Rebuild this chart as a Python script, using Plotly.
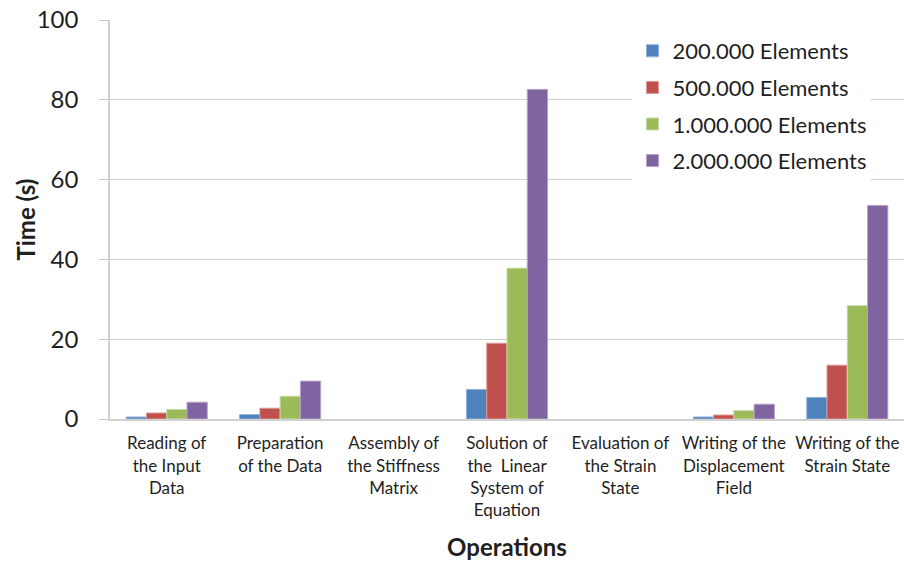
import plotly.graph_objects as go

# Operations of the FE analysis (multi-line category labels)
operations = [
    "Reading of<br>the Input<br>Data",
    "Preparation<br>of the Data",
    "Assembly of<br>the Stiffness<br>Matrix",
    "Solution of<br>the  Linear<br>System of<br>Equation",
    "Evaluation of<br>the Strain<br>State",
    "Writing of the<br>Displacement<br>Field",
    "Writing of the<br>Strain State",
]

series_names = [
    "200.000 Elements",
    "500.000 Elements",
    "1.000.000 Elements",
    "2.000.000 Elements",
]

# Time (s) per operation for each mesh size
t_200k = [0.5, 1.1, 0.0, 7.4, 0.0, 0.5, 5.4]
t_500k = [1.5, 2.7, 0.0, 19.0, 0.0, 1.0, 13.5]
t_1m = [2.4, 5.7, 0.0, 37.8, 0.0, 2.1, 28.4]
t_2m = [4.2, 9.5, 0.0, 82.6, 0.0, 3.7, 53.5]

series_values = [t_200k, t_500k, t_1m, t_2m]
colors = ["#4F81BD", "#C0504D", "#9BBB59", "#8064A2"]
edge_colors = ["#8fb0d8", "#dc9a98", "#c6d9a2", "#b4a2c9"]

y_ticks = [0, 20, 40, 60, 80, 100]

FONT = "Lato"
TEXT = "#1f1f1f"

fig = go.Figure()
for i, (name, vals) in enumerate(zip(series_names, series_values)):
    # no outline on empty bars
    edge_w = [1 if v > 0 else 0 for v in vals]
    fig.add_trace(
        go.Bar(
            x=operations,
            y=vals,
            name=name,
            legendgroup=f"g{i}",
            marker=dict(color=colors[i], line=dict(color=edge_colors[i], width=edge_w)),
        )
    )

fig.update_layout(
    width=904,
    height=562,
    margin=dict(l=110, r=0, t=20, b=143),
    paper_bgcolor="white",
    plot_bgcolor="white",
    barmode="group",
    bargap=0.285,
    bargroupgap=0,
    font=dict(family=FONT, color=TEXT),
    legend=dict(
        x=0.658,
        y=0.975,
        xanchor="left",
        yanchor="top",
        bgcolor="white",
        font=dict(family=FONT, size=22, color=TEXT),
        tracegroupgap=5,
        itemwidth=30,
    ),
    xaxis=dict(
        showline=True,
        linecolor="#d0d0d0",
        linewidth=2,
        showgrid=False,
        ticks="",
        tickfont=dict(family=FONT, size=17, color=TEXT),
        ticklabelstandoff=8,
        title=dict(
            text="<b>Operations</b>",
            font=dict(family=FONT, size=24, color=TEXT),
            standoff=20,
        ),
    ),
    yaxis=dict(
        range=[0, 100],
        tickvals=y_ticks,
        showline=True,
        linecolor="#d0d0d0",
        linewidth=1.5,
        showgrid=True,
        gridcolor="#cfcfcf",
        gridwidth=1,
        zeroline=False,
        ticks="outside",
        ticklen=9,
        tickcolor="#c8c8c8",
        tickfont=dict(family=FONT, size=24, color=TEXT),
        ticklabelstandoff=16,
    ),
    annotations=[
        dict(
            text="<b>Time (s)</b>",
            xref="paper",
            yref="paper",
            x=-0.107,
            y=0.5,
            xanchor="center",
            yanchor="middle",
            textangle=-90,
            showarrow=False,
            font=dict(family=FONT, size=24, color=TEXT),
        )
    ],
)

fig.write_html("out.html")
